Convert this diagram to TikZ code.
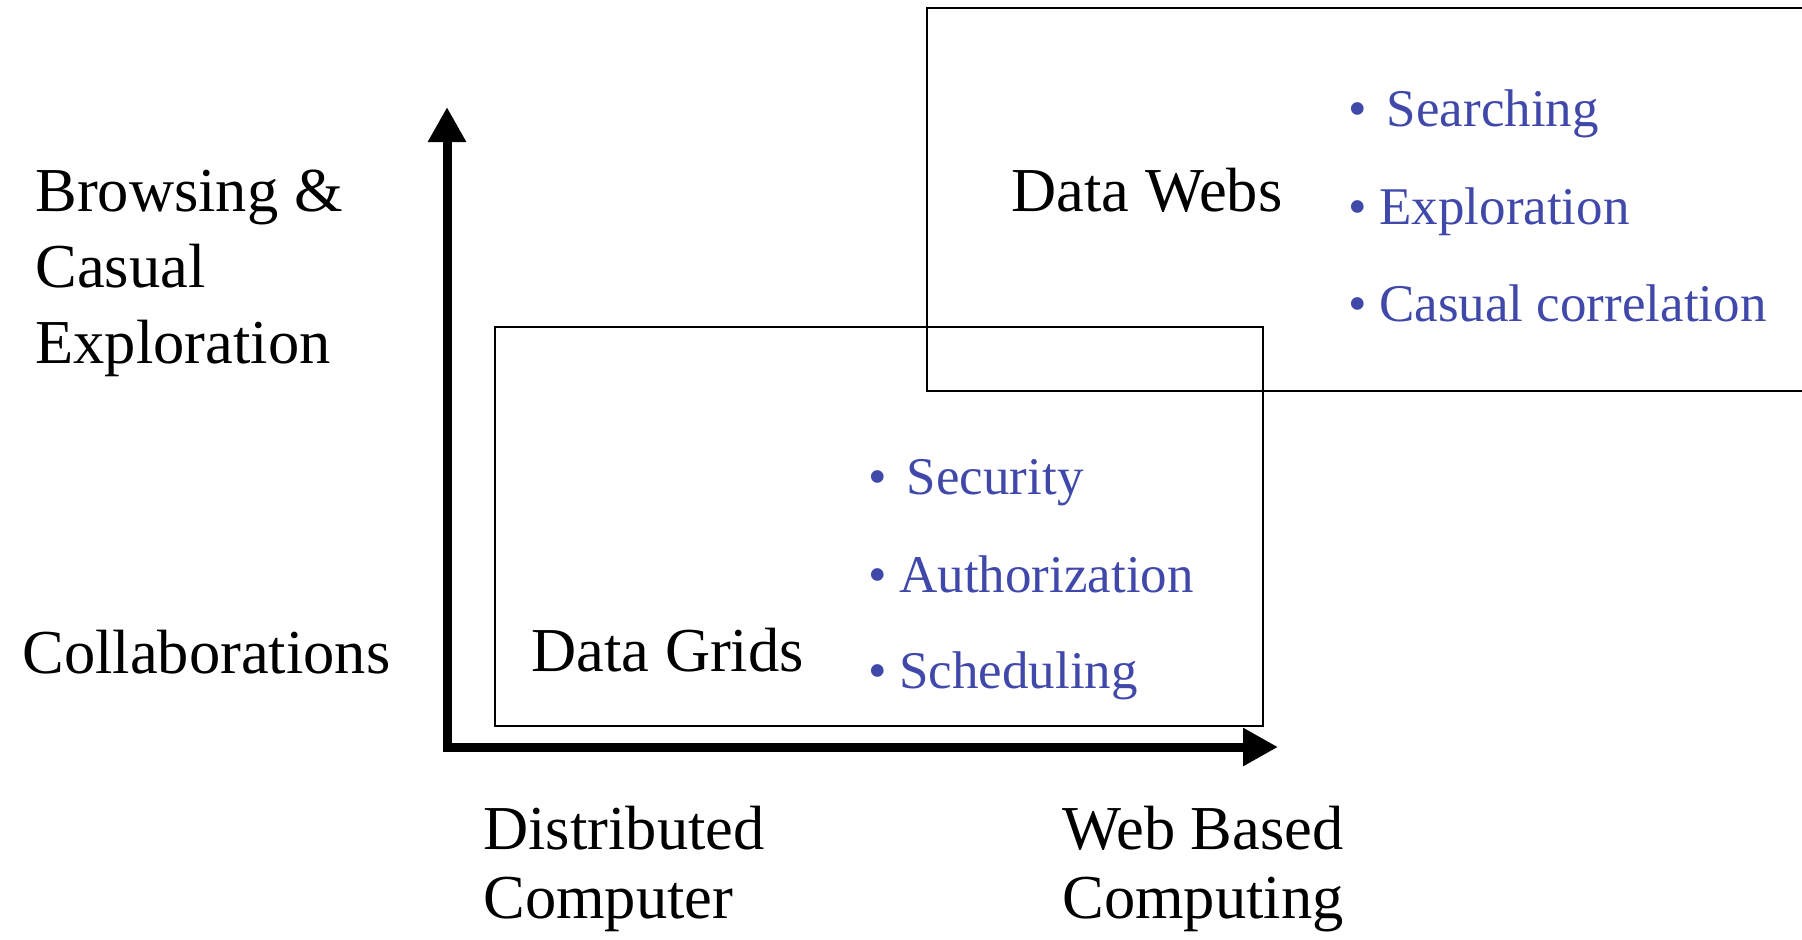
\documentclass[tikz,border=0pt]{standalone}
\usepackage{fontspec}
\setmainfont{Liberation Serif}
\usetikzlibrary{arrows.meta}
\definecolor{itemblue}{RGB}{64,72,170}
\begin{document}
\begin{tikzpicture}[x=0.5pt,y=-0.5pt,
  lbl/.style={anchor=base west, inner sep=0pt, align=left, font=\fontsize{31.25}{38}\selectfont},
  lblb/.style={lbl, font=\fontsize{31.25}{34.5}\selectfont},
  item/.style={anchor=base west, inner sep=0pt, text=itemblue, font=\fontsize{26.5}{32}\selectfont},
  frame/.style={draw, line width=1pt},
  axis/.style={line width=4.5pt, line join=miter, {Triangle[length=17.5pt,width=18pt]}-{Triangle[length=17.5pt,width=18pt]}}]
\useasboundingbox (0,0) rectangle (1802,939);
% frames
\draw[frame] (927,8) rectangle (1830,391);
\draw[frame] (495,327) rectangle (1263,726);
% axes
\coordinate (ytip) at (447,107);
\coordinate (origin) at (447,747);
\coordinate (xtip) at (1278,747);
\draw[axis] (ytip) -- (origin) -- (xtip);
% axis labels (base = last line's baseline)
\node[lbl] (browse) at (35,363) {Browsing \&\\Casual\\Exploration};
\node[lbl] (collab) at (22,673) {Collaborations};
\node[lblb] (dist) at (483,918) {Distributed\\Computer};
\node[lblb] (web) at (1062,918) {Web Based\\Computing};
% box titles
\node[lbl] (webs) at (1011,211.7) {Data Webs};
\node[lbl] (grids) at (531,671.7) {Data Grids};
% items
\node[item] (i1) at (1348,126.7) {\textbullet\hspace{10pt}Searching};
\node[item] (i2) at (1348,224.3) {\textbullet\hspace{6.25pt}Exploration};
\node[item] (i3) at (1348,321) {\textbullet\hspace{6.25pt}Casual correlation};
\node[item] (i4) at (868,494) {\textbullet\hspace{10pt}Security};
\node[item] (i5) at (868,592.7) {\textbullet\hspace{6.25pt}Authorization};
\node[item] (i6) at (868,688.3) {\textbullet\hspace{6.25pt}Scheduling};
\end{tikzpicture}
\end{document}
